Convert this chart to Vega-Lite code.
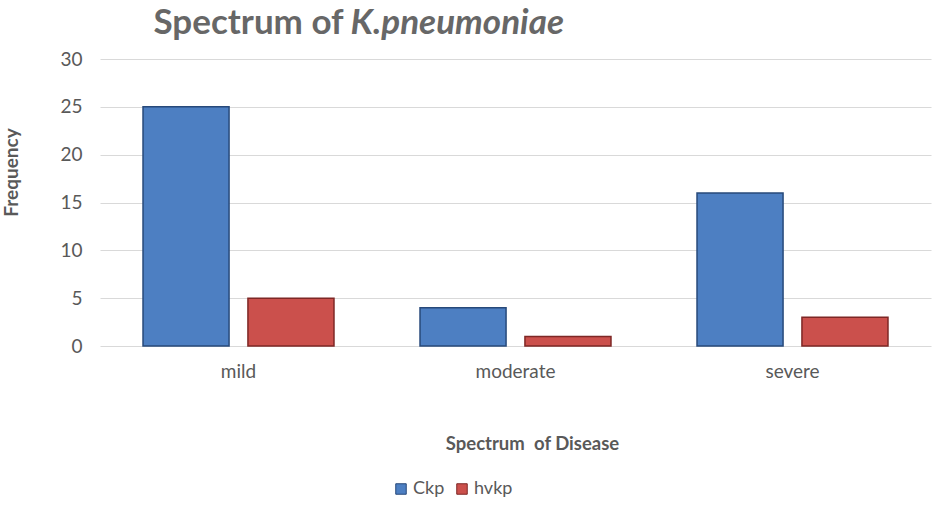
{
  "$schema": "https://vega.github.io/schema/vega-lite/v6.json",
  "autosize": {"type": "none"},
  "padding": {"left": 100, "top": 59, "right": 4, "bottom": 177},
  "width": 831,
  "height": 287,
  "background": "white",
  "config": {
    "view": {"stroke": null},
    "font": "Lato"
  },
  "data": {
    "values": [
      {"spectrum": "mild", "type": "Ckp", "frequency": 25},
      {"spectrum": "mild", "type": "hvkp", "frequency": 5},
      {"spectrum": "moderate", "type": "Ckp", "frequency": 4},
      {"spectrum": "moderate", "type": "hvkp", "frequency": 1},
      {"spectrum": "severe", "type": "Ckp", "frequency": 16},
      {"spectrum": "severe", "type": "hvkp", "frequency": 3}
    ]
  },
  "encoding": {
    "xOffset": {
      "field": "type",
      "type": "nominal",
      "scale": {"paddingInner": 0.18, "paddingOuter": 0.41}
    }
  },
  "layer": [
    {
      "mark": {"type": "bar", "strokeWidth": 1.5},
      "encoding": {
        "x": {
          "field": "spectrum",
          "type": "nominal",
          "sort": ["mild", "moderate", "severe"],
          "scale": {"paddingInner": 0, "paddingOuter": 0},
          "axis": {
            "title": "Spectrum\u2002of Disease",
            "titleFont": "Lato",
            "titleFontSize": 18.5,
            "titleFontWeight": "bold",
            "titleColor": "#595959",
            "titleX": 432,
            "titleY": 97,
            "titleBaseline": "middle",
            "labelAngle": 0,
            "labelFontSize": 19,
            "labelColor": "#595959",
            "labelPadding": 16,
            "ticks": false,
            "domain": false
          }
        },
        "y": {
          "field": "frequency",
          "type": "quantitative",
          "scale": {"domain": [0, 30], "nice": false},
          "axis": {
            "values": [0, 5, 10, 15, 20, 25, 30],
            "title": "Frequency",
            "titleFont": "Lato",
            "titleFontSize": 19,
            "titleFontWeight": "bold",
            "titleColor": "#595959",
            "titleX": -89,
            "titleY": 113,
            "titleAngle": -90,
            "titleAlign": "center",
            "titleBaseline": "middle",
            "labelFontSize": 19,
            "labelColor": "#595959",
            "labelPadding": 18,
            "ticks": false,
            "domain": false,
            "grid": true,
            "gridColor": "#d9d9d9",
            "gridWidth": 1.2
          }
        },
        "color": {
          "field": "type",
          "type": "nominal",
          "scale": {"domain": ["Ckp", "hvkp"], "range": ["#4d7fc2", "#cb504c"]},
          "legend": {
            "title": null,
            "orient": "none",
            "direction": "horizontal",
            "legendX": 292,
            "legendY": 421,
            "symbolType": "square",
            "symbolSize": 110,
            "symbolStrokeWidth": 1,
            "labelFontSize": 18,
            "labelColor": "#595959",
            "labelOffset": 3,
            "columnPadding": 8
          }
        },
        "stroke": {
          "field": "type",
          "type": "nominal",
          "scale": {"domain": ["Ckp", "hvkp"], "range": ["#27497a", "#7e2725"]},
          "legend": null
        }
      }
    },
    {
      "mark": {"type": "bar", "opacity": 0},
      "encoding": {
        "x": {
          "field": "spectrum",
          "type": "nominal",
          "sort": ["mild", "moderate", "severe"],
          "axis": {
            "orient": "top",
            "title": "Spectrum of",
            "titleFont": "Lato",
            "titleFontSize": 35,
            "titleFontWeight": "bold",
            "titleColor": "#676767",
            "titleAlign": "left",
            "titleBaseline": "alphabetic",
            "titleX": 53,
            "titleY": -26,
            "labels": false,
            "ticks": false,
            "domain": false,
            "grid": false
          }
        },
        "y": {
          "field": "frequency",
          "type": "quantitative",
          "scale": {"domain": [0, 30], "nice": false},
          "axis": {
            "orient": "right",
            "title": "K.pneumoniae",
            "titleFont": "Lato",
            "titleFontSize": 35,
            "titleFontWeight": "bold",
            "titleFontStyle": "italic",
            "titleColor": "#676767",
            "titleAngle": 0,
            "titleAlign": "left",
            "titleBaseline": "alphabetic",
            "titleX": -581,
            "titleY": -26,
            "labels": false,
            "ticks": false,
            "domain": false,
            "grid": false
          }
        }
      }
    }
  ],
  "resolve": {"scale": {"y": "independent"}, "axis": {"x": "independent"}}
}
